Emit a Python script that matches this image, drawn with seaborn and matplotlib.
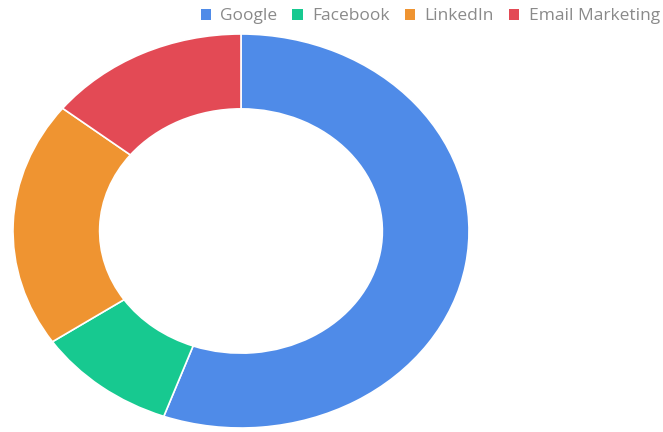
import matplotlib
matplotlib.use("Agg")
import matplotlib.pyplot as plt
from matplotlib.patches import Patch
import seaborn as sns

# Data
channels = ["Google", "Facebook", "LinkedIn", "Email Marketing"]
shares = [55.5, 10, 20.2, 14.3]
colors = ["#4f8be8", "#17c990", "#ef9431", "#e34a55"]

sns.set_theme(style="white")
plt.rcParams['font.family'] = ['Open Sans', 'DejaVu Sans']

fig = plt.figure(figsize=(6.63, 4.32), dpi=100)
# the reference donut is stretched horizontally, so use a non-square axes
ax = fig.add_axes([13 / 663, 4 / 432, 456 / 663, 394 / 432])

ax.pie(shares, colors=colors, startangle=90, counterclock=False,
       radius=1.0,
       wedgeprops=dict(width=0.38, edgecolor="white", linewidth=1.2))
ax.set_aspect('auto')
ax.set_xlim(-1, 1)
ax.set_ylim(-1, 1)
ax.axis('off')

# Legend across the top right
handles = [Patch(facecolor=c, edgecolor='none') for c in colors]
leg = fig.legend(handles, channels, loc='upper right', bbox_to_anchor=(1.003, 0.993),
                 ncol=4, frameon=False, fontsize=12.5, handlelength=0.6, handleheight=0.6,
                 handletextpad=0.55, columnspacing=0.85, borderaxespad=0.1, borderpad=0.2)
for t in leg.get_texts():
    t.set_color("#8a8a8a")

fig.savefig("out.png", dpi=100, facecolor="white")
